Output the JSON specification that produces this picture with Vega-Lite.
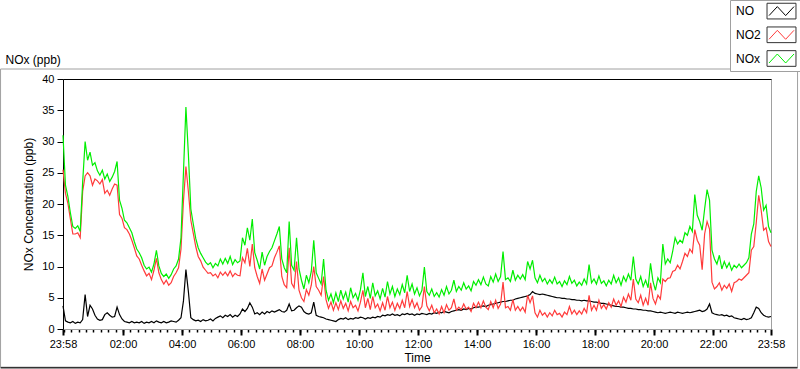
{
  "$schema": "https://vega.github.io/schema/vega-lite/v6.json",
  "width": 708,
  "height": 250,
  "autosize": "none",
  "padding": {"left": 63, "top": 79, "right": 29, "bottom": 40},
  "background": "white",
  "config": {
    "font": "Liberation Sans",
    "view": {"stroke": "#a0a0a0"},
    "axis": {"labelFont": "Liberation Sans", "titleFont": "Liberation Sans", "labelColor": "#000", "titleColor": "#000", "titleFontWeight": "normal", "grid": false}
  },
  "resolve": {"axis": {"x": "independent", "y": "independent"}},
  "layer": [
    {
      "data": {"values": [{"f": 1}]},
      "mark": {"type": "rect", "filled": false, "color": "#a0a0a0", "strokeWidth": 1, "clip": false},
      "encoding": {
        "x": {"datum": -127, "type": "quantitative", "scale": {"domain": [0, 1440], "nice": false, "zero": false},
          "axis": {"orient": "bottom", "values": [2,17,32,47,62,77,92,107,122,137,152,167,182,197,212,227,242,257,272,287,302,317,332,347,362,377,392,407,422,437,452,467,482,497,512,527,542,557,572,587,602,617,632,647,662,677,692,707,722,737,752,767,782,797,812,827,842,857,872,887,902,917,932,947,962,977,992,1007,1022,1037,1052,1067,1082,1097,1112,1127,1142,1157,1172,1187,1202,1217,1232,1247,1262,1277,1292,1307,1322,1337,1352,1367,1382,1397,1412,1427], "labels": false, "domain": false, "title": null, "ticks": true, "tickSize": 3, "tickWidth": 1.5, "tickColor": "#000"}},
        "x2": {"datum": 1494},
        "y": {"datum": 41.6, "type": "quantitative", "scale": {"domain": [0, 40], "nice": false}, "axis": null},
        "y2": {"datum": -6.1}
      }
    },
    {
      "data": {"values": [{"f": 1}]},
      "mark": {"type": "rule", "color": "#333333", "strokeWidth": 1.5, "clip": false},
      "encoding": {
        "x": {"datum": -127, "type": "quantitative", "axis": {"orient": "top", "labels": false, "ticks": false, "domain": true, "domainColor": "#000", "domainWidth": 1,
          "title": "NOx (ppb)", "titleX": -58, "titleY": -16, "titleAlign": "left", "titleBaseline": "alphabetic", "titleAngle": 0, "titleFontSize": 12}},
        "x2": {"datum": 1494},
        "y": {"datum": -6.2, "type": "quantitative", "axis": null}
      }
    },
    {
      "data": {"values": [
{"m":0,"NO":3.7,"NO2":25.5,"NOx":31.0},{"m":5,"NO":1.3,"NO2":21.7,"NOx":23.0},{"m":10,"NO":1.1,"NO2":20.1,"NOx":21.2},{"m":15,"NO":1.0,"NO2":17.6,"NOx":18.6},{"m":20,"NO":1.2,"NO2":15.2,"NOx":16.4},{"m":25,"NO":0.9,"NO2":15.2,"NOx":16.1},{"m":30,"NO":1.1,"NO2":15.4,"NOx":16.5},{"m":35,"NO":1.0,"NO2":14.6,"NOx":15.6},{"m":40,"NO":1.5,"NO2":22.0,"NOx":23.5},{"m":45,"NO":5.5,"NO2":24.5,"NOx":30.0},
{"m":50,"NO":2.0,"NO2":25.0,"NOx":27.0},{"m":55,"NO":3.8,"NO2":24.5,"NOx":28.3},{"m":60,"NO":3.2,"NO2":23.0,"NOx":26.2},{"m":65,"NO":2.2,"NO2":24.0,"NOx":26.6},{"m":70,"NO":1.6,"NO2":23.7,"NOx":25.3},{"m":75,"NO":1.4,"NO2":23.2,"NOx":24.6},{"m":80,"NO":1.5,"NO2":23.9,"NOx":25.4},{"m":85,"NO":2.3,"NO2":21.7,"NOx":24.0},{"m":90,"NO":2.6,"NO2":22.2,"NOx":24.8},{"m":95,"NO":2.2,"NO2":21.4,"NOx":23.6},
{"m":100,"NO":1.9,"NO2":22.4,"NOx":24.3},{"m":105,"NO":2.0,"NO2":23.2,"NOx":25.2},{"m":110,"NO":3.5,"NO2":23.0,"NOx":26.8},{"m":115,"NO":2.3,"NO2":18.3,"NOx":20.6},{"m":120,"NO":1.6,"NO2":17.7,"NOx":19.3},{"m":125,"NO":1.2,"NO2":16.2,"NOx":17.4},{"m":130,"NO":1.1,"NO2":15.9,"NOx":17.0},{"m":135,"NO":1.0,"NO2":15.2,"NOx":16.2},{"m":140,"NO":1.2,"NO2":14.2,"NOx":15.4},{"m":145,"NO":1.0,"NO2":13.0,"NOx":14.0},
{"m":150,"NO":1.1,"NO2":11.7,"NOx":12.8},{"m":155,"NO":1.0,"NO2":11.2,"NOx":12.2},{"m":160,"NO":1.2,"NO2":10.2,"NOx":11.4},{"m":165,"NO":0.9,"NO2":9.3,"NOx":10.2},{"m":170,"NO":1.1,"NO2":8.5,"NOx":9.6},{"m":175,"NO":1.0,"NO2":8.9,"NOx":9.9},{"m":180,"NO":1.2,"NO2":7.9,"NOx":9.1},{"m":185,"NO":1.0,"NO2":9.4,"NOx":10.4},{"m":190,"NO":1.3,"NO2":11.3,"NOx":12.6},{"m":195,"NO":1.1,"NO2":9.0,"NOx":10.1},
{"m":200,"NO":1.0,"NO2":7.9,"NOx":8.9},{"m":205,"NO":1.2,"NO2":7.2,"NOx":8.4},{"m":210,"NO":1.0,"NO2":7.8,"NOx":8.8},{"m":215,"NO":1.1,"NO2":7.0,"NOx":8.1},{"m":220,"NO":1.3,"NO2":7.4,"NOx":8.7},{"m":225,"NO":1.2,"NO2":8.4,"NOx":9.6},{"m":230,"NO":1.1,"NO2":9.0,"NOx":10.1},{"m":235,"NO":1.4,"NO2":9.8,"NOx":11.2},{"m":240,"NO":1.8,"NO2":12.8,"NOx":14.6},{"m":245,"NO":4.5,"NO2":20.5,"NOx":25.0},
{"m":250,"NO":9.5,"NO2":26.0,"NOx":35.5},{"m":255,"NO":6.0,"NO2":22.0,"NOx":28.0},{"m":260,"NO":1.8,"NO2":17.4,"NOx":19.2},{"m":265,"NO":1.5,"NO2":15.3,"NOx":16.8},{"m":270,"NO":1.3,"NO2":13.2,"NOx":14.5},{"m":275,"NO":1.4,"NO2":11.6,"NOx":13.0},{"m":280,"NO":1.2,"NO2":10.9,"NOx":12.1},{"m":285,"NO":1.5,"NO2":9.9,"NOx":11.4},{"m":290,"NO":1.3,"NO2":9.4,"NOx":10.7},{"m":295,"NO":1.4,"NO2":8.9,"NOx":10.3},
{"m":300,"NO":1.6,"NO2":9.0,"NOx":10.6},{"m":305,"NO":1.3,"NO2":8.5,"NOx":9.8},{"m":310,"NO":1.7,"NO2":8.8,"NOx":10.5},{"m":315,"NO":1.9,"NO2":8.2,"NOx":10.1},{"m":320,"NO":2.1,"NO2":9.1,"NOx":11.2},{"m":325,"NO":1.8,"NO2":8.6,"NOx":10.4},{"m":330,"NO":2.2,"NO2":9.1,"NOx":11.3},{"m":335,"NO":2.0,"NO2":8.5,"NOx":10.5},{"m":340,"NO":2.3,"NO2":9.3,"NOx":11.6},{"m":345,"NO":1.9,"NO2":8.4,"NOx":10.3},
{"m":350,"NO":2.2,"NO2":8.9,"NOx":11.1},{"m":355,"NO":2.0,"NO2":8.6,"NOx":10.6},{"m":360,"NO":2.4,"NO2":8.5,"NOx":10.9},{"m":365,"NO":3.2,"NO2":11.4,"NOx":14.6},{"m":370,"NO":2.8,"NO2":10.6,"NOx":13.4},{"m":375,"NO":3.3,"NO2":12.9,"NOx":16.2},{"m":380,"NO":4.2,"NO2":10.0,"NOx":14.2},{"m":385,"NO":3.5,"NO2":13.6,"NOx":17.6},{"m":390,"NO":2.4,"NO2":9.8,"NOx":12.2},{"m":395,"NO":2.6,"NO2":8.4,"NOx":11.0},
{"m":400,"NO":2.3,"NO2":7.3,"NOx":9.6},{"m":405,"NO":2.7,"NO2":9.6,"NOx":12.3},{"m":410,"NO":2.4,"NO2":7.8,"NOx":10.2},{"m":415,"NO":2.8,"NO2":8.8,"NOx":11.6},{"m":420,"NO":2.6,"NO2":9.8,"NOx":12.4},{"m":425,"NO":2.9,"NO2":10.1,"NOx":13.0},{"m":430,"NO":2.7,"NO2":11.4,"NOx":14.1},{"m":435,"NO":2.9,"NO2":12.3,"NOx":15.2},{"m":440,"NO":3.1,"NO2":13.3,"NOx":16.4},{"m":445,"NO":2.8,"NO2":8.4,"NOx":11.2},
{"m":450,"NO":2.7,"NO2":7.1,"NOx":9.8},{"m":455,"NO":3.0,"NO2":6.6,"NOx":9.0},{"m":460,"NO":4.0,"NO2":13.0,"NOx":17.2},{"m":465,"NO":2.9,"NO2":7.3,"NOx":10.2},{"m":470,"NO":3.0,"NO2":6.6,"NOx":9.4},{"m":475,"NO":3.4,"NO2":10.8,"NOx":14.6},{"m":480,"NO":3.7,"NO2":6.2,"NOx":9.6},{"m":485,"NO":3.5,"NO2":5.0,"NOx":7.8},{"m":490,"NO":2.8,"NO2":4.4,"NOx":6.4},{"m":495,"NO":2.5,"NO2":6.3,"NOx":8.6},
{"m":500,"NO":2.4,"NO2":5.4,"NOx":7.4},{"m":505,"NO":2.6,"NO2":7.0,"NOx":9.2},{"m":510,"NO":4.3,"NO2":10.0,"NOx":14.2},{"m":515,"NO":2.2,"NO2":6.8,"NOx":9.0},{"m":520,"NO":2.0,"NO2":6.2,"NOx":8.1},{"m":525,"NO":1.9,"NO2":5.4,"NOx":7.2},{"m":530,"NO":1.8,"NO2":8.4,"NOx":11.2},{"m":535,"NO":1.6,"NO2":4.7,"NOx":6.2},{"m":540,"NO":1.5,"NO2":3.3,"NOx":4.6},{"m":545,"NO":1.4,"NO2":4.3,"NOx":5.6},
{"m":550,"NO":1.3,"NO2":3.0,"NOx":4.2},{"m":555,"NO":1.2,"NO2":4.2,"NOx":5.8},{"m":560,"NO":1.5,"NO2":3.1,"NOx":4.4},{"m":565,"NO":1.7,"NO2":4.5,"NOx":6.2},{"m":570,"NO":1.6,"NO2":3.3,"NOx":4.8},{"m":575,"NO":1.8,"NO2":4.1,"NOx":5.9},{"m":580,"NO":1.5,"NO2":2.9,"NOx":4.3},{"m":585,"NO":1.7,"NO2":4.4,"NOx":6.6},{"m":590,"NO":1.6,"NO2":3.4,"NOx":5.0},{"m":595,"NO":1.8,"NO2":3.8,"NOx":5.7},
{"m":600,"NO":1.7,"NO2":2.9,"NOx":4.6},{"m":605,"NO":1.9,"NO2":4.3,"NOx":6.3},{"m":610,"NO":1.8,"NO2":6.2,"NOx":9.0},{"m":615,"NO":1.6,"NO2":3.4,"NOx":5.2},{"m":620,"NO":1.8,"NO2":4.9,"NOx":6.8},{"m":625,"NO":1.7,"NO2":3.1,"NOx":4.9},{"m":630,"NO":1.9,"NO2":5.2,"NOx":7.4},{"m":635,"NO":1.8,"NO2":3.4,"NOx":5.3},{"m":640,"NO":2.0,"NO2":4.0,"NOx":6.1},{"m":645,"NO":1.9,"NO2":2.9,"NOx":4.8},
{"m":650,"NO":2.2,"NO2":4.2,"NOx":6.5},{"m":655,"NO":2.1,"NO2":3.0,"NOx":5.1},{"m":660,"NO":2.3,"NO2":5.2,"NOx":7.6},{"m":665,"NO":2.2,"NO2":3.4,"NOx":5.6},{"m":670,"NO":2.4,"NO2":4.3,"NOx":6.8},{"m":675,"NO":2.2,"NO2":3.0,"NOx":5.2},{"m":680,"NO":2.3,"NO2":4.1,"NOx":6.4},{"m":685,"NO":2.1,"NO2":3.3,"NOx":5.5},{"m":690,"NO":2.4,"NO2":4.6,"NOx":7.1},{"m":695,"NO":2.3,"NO2":3.4,"NOx":5.8},
{"m":700,"NO":2.5,"NO2":6.0,"NOx":8.6},{"m":705,"NO":2.3,"NO2":3.6,"NOx":6.0},{"m":710,"NO":2.4,"NO2":4.7,"NOx":7.2},{"m":715,"NO":2.2,"NO2":3.4,"NOx":5.6},{"m":720,"NO":2.4,"NO2":4.2,"NOx":6.6},{"m":725,"NO":2.3,"NO2":3.0,"NOx":5.3},{"m":730,"NO":2.5,"NO2":3.6,"NOx":6.2},{"m":735,"NO":2.4,"NO2":6.8,"NOx":9.9},{"m":740,"NO":2.3,"NO2":3.7,"NOx":6.0},{"m":745,"NO":2.5,"NO2":2.9,"NOx":5.4},
{"m":750,"NO":2.4,"NO2":3.8,"NOx":6.4},{"m":755,"NO":2.6,"NO2":2.6,"NOx":5.2},{"m":760,"NO":2.5,"NO2":3.2,"NOx":5.8},{"m":765,"NO":2.7,"NO2":2.4,"NOx":5.1},{"m":770,"NO":2.6,"NO2":3.6,"NOx":6.3},{"m":775,"NO":2.8,"NO2":2.6,"NOx":5.4},{"m":780,"NO":2.7,"NO2":3.9,"NOx":6.8},{"m":785,"NO":2.6,"NO2":3.0,"NOx":5.6},{"m":790,"NO":2.8,"NO2":3.4,"NOx":6.2},{"m":795,"NO":2.9,"NO2":4.8,"NOx":7.8},
{"m":800,"NO":3.0,"NO2":3.0,"NOx":6.0},{"m":805,"NO":3.1,"NO2":3.5,"NOx":6.8},{"m":810,"NO":3.0,"NO2":3.1,"NOx":6.2},{"m":815,"NO":3.2,"NO2":4.0,"NOx":7.4},{"m":820,"NO":3.1,"NO2":3.2,"NOx":6.4},{"m":825,"NO":3.3,"NO2":3.5,"NOx":6.9},{"m":830,"NO":3.2,"NO2":2.8,"NOx":6.1},{"m":835,"NO":3.4,"NO2":4.1,"NOx":7.6},{"m":840,"NO":3.5,"NO2":3.4,"NOx":7.0},{"m":845,"NO":3.5,"NO2":4.3,"NOx":7.9},
{"m":850,"NO":3.6,"NO2":3.4,"NOx":7.1},{"m":855,"NO":3.7,"NO2":4.5,"NOx":8.3},{"m":860,"NO":3.6,"NO2":3.5,"NOx":7.2},{"m":865,"NO":3.8,"NO2":3.1,"NOx":6.9},{"m":870,"NO":3.9,"NO2":4.4,"NOx":8.4},{"m":875,"NO":4.0,"NO2":3.4,"NOx":7.5},{"m":880,"NO":4.1,"NO2":4.6,"NOx":8.8},{"m":885,"NO":4.2,"NO2":3.3,"NOx":7.6},{"m":890,"NO":4.3,"NO2":4.0,"NOx":8.4},{"m":895,"NO":4.4,"NO2":7.5,"NOx":12.4},
{"m":900,"NO":4.4,"NO2":3.4,"NOx":7.9},{"m":905,"NO":4.5,"NO2":3.6,"NOx":8.2},{"m":910,"NO":4.6,"NO2":3.0,"NOx":7.6},{"m":915,"NO":4.6,"NO2":4.7,"NOx":9.4},{"m":920,"NO":4.8,"NO2":3.0,"NOx":7.8},{"m":925,"NO":4.9,"NO2":3.6,"NOx":8.6},{"m":930,"NO":5.0,"NO2":2.9,"NOx":8.0},{"m":935,"NO":5.1,"NO2":3.5,"NOx":8.7},{"m":940,"NO":5.2,"NO2":2.7,"NOx":7.9},{"m":945,"NO":5.3,"NO2":5.4,"NOx":10.8},
{"m":950,"NO":5.5,"NO2":4.2,"NOx":9.6},{"m":955,"NO":6.0,"NO2":5.3,"NOx":11.0},{"m":960,"NO":5.7,"NO2":2.6,"NOx":8.2},{"m":965,"NO":5.6,"NO2":1.9,"NOx":7.4},{"m":970,"NO":5.5,"NO2":3.0,"NOx":8.6},{"m":975,"NO":5.6,"NO2":2.2,"NOx":7.6},{"m":980,"NO":5.5,"NO2":2.6,"NOx":8.1},{"m":985,"NO":5.4,"NO2":1.9,"NOx":7.2},{"m":990,"NO":5.3,"NO2":2.6,"NOx":7.9},{"m":995,"NO":5.2,"NO2":2.1,"NOx":7.3},
{"m":1000,"NO":5.1,"NO2":3.0,"NOx":8.3},{"m":1005,"NO":5.0,"NO2":2.3,"NOx":7.2},{"m":1010,"NO":5.0,"NO2":2.5,"NOx":7.6},{"m":1015,"NO":4.9,"NO2":1.9,"NOx":6.8},{"m":1020,"NO":4.9,"NO2":2.7,"NOx":7.7},{"m":1025,"NO":4.8,"NO2":2.3,"NOx":7.1},{"m":1030,"NO":4.8,"NO2":3.6,"NOx":8.4},{"m":1035,"NO":4.7,"NO2":2.4,"NOx":7.3},{"m":1040,"NO":4.7,"NO2":3.0,"NOx":7.8},{"m":1045,"NO":4.6,"NO2":2.3,"NOx":6.9},
{"m":1050,"NO":4.6,"NO2":2.9,"NOx":7.5},{"m":1055,"NO":4.5,"NO2":2.4,"NOx":7.0},{"m":1060,"NO":4.6,"NO2":3.3,"NOx":8.0},{"m":1065,"NO":4.5,"NO2":2.6,"NOx":7.2},{"m":1070,"NO":4.5,"NO2":5.4,"NOx":10.3},{"m":1075,"NO":4.4,"NO2":3.0,"NOx":7.4},{"m":1080,"NO":4.3,"NO2":3.8,"NOx":8.0},{"m":1085,"NO":4.3,"NO2":3.0,"NOx":7.2},{"m":1090,"NO":4.2,"NO2":4.6,"NOx":8.5},{"m":1095,"NO":4.1,"NO2":3.3,"NOx":7.3},
{"m":1100,"NO":4.1,"NO2":3.9,"NOx":7.7},{"m":1105,"NO":4.0,"NO2":3.2,"NOx":6.9},{"m":1110,"NO":3.9,"NO2":4.2,"NOx":7.8},{"m":1115,"NO":3.8,"NO2":3.5,"NOx":7.2},{"m":1120,"NO":3.7,"NO2":4.8,"NOx":8.6},{"m":1125,"NO":3.6,"NO2":3.8,"NOx":7.4},{"m":1130,"NO":3.6,"NO2":4.5,"NOx":8.2},{"m":1135,"NO":3.5,"NO2":3.6,"NOx":7.0},{"m":1140,"NO":3.5,"NO2":5.1,"NOx":8.4},{"m":1145,"NO":3.4,"NO2":4.3,"NOx":7.6},
{"m":1150,"NO":3.3,"NO2":5.6,"NOx":8.8},{"m":1155,"NO":3.3,"NO2":4.6,"NOx":7.8},{"m":1160,"NO":3.2,"NO2":8.0,"NOx":11.6},{"m":1165,"NO":3.2,"NO2":4.8,"NOx":8.0},{"m":1170,"NO":3.1,"NO2":4.2,"NOx":7.2},{"m":1175,"NO":3.1,"NO2":5.4,"NOx":8.4},{"m":1180,"NO":3.0,"NO2":3.8,"NOx":6.8},{"m":1185,"NO":3.0,"NO2":4.9,"NOx":7.8},{"m":1190,"NO":2.9,"NO2":3.8,"NOx":6.6},{"m":1195,"NO":2.9,"NO2":7.4,"NOx":10.5},
{"m":1200,"NO":2.8,"NO2":4.9,"NOx":7.6},{"m":1205,"NO":2.7,"NO2":4.0,"NOx":6.2},{"m":1210,"NO":2.6,"NO2":5.4,"NOx":8.2},{"m":1215,"NO":2.7,"NO2":4.8,"NOx":7.4},{"m":1220,"NO":2.6,"NO2":8.0,"NOx":13.6},{"m":1225,"NO":2.5,"NO2":7.6,"NOx":10.4},{"m":1230,"NO":2.6,"NO2":8.1,"NOx":11.2},{"m":1235,"NO":2.7,"NO2":8.2,"NOx":10.6},{"m":1240,"NO":2.6,"NO2":9.2,"NOx":12.4},{"m":1245,"NO":2.5,"NO2":9.4,"NOx":14.6},
{"m":1250,"NO":2.7,"NO2":10.2,"NOx":13.6},{"m":1255,"NO":2.6,"NO2":9.6,"NOx":14.2},{"m":1260,"NO":2.5,"NO2":10.8,"NOx":13.8},{"m":1265,"NO":2.6,"NO2":12.1,"NOx":15.4},{"m":1270,"NO":2.7,"NO2":11.6,"NOx":15.0},{"m":1275,"NO":2.6,"NO2":12.8,"NOx":16.4},{"m":1280,"NO":2.7,"NO2":12.2,"NOx":15.6},{"m":1285,"NO":2.8,"NO2":15.9,"NOx":21.5},{"m":1290,"NO":2.9,"NO2":14.2,"NOx":18.2},{"m":1295,"NO":3.0,"NO2":13.4,"NOx":17.2},
{"m":1300,"NO":2.8,"NO2":9.5,"NOx":15.8},{"m":1305,"NO":2.9,"NO2":15.2,"NOx":19.2},{"m":1310,"NO":3.2,"NO2":17.2,"NOx":22.3},{"m":1315,"NO":4.0,"NO2":16.0,"NOx":20.6},{"m":1320,"NO":2.6,"NO2":7.5,"NOx":12.6},{"m":1325,"NO":2.4,"NO2":6.4,"NOx":11.2},{"m":1330,"NO":2.3,"NO2":6.8,"NOx":10.4},{"m":1335,"NO":2.2,"NO2":7.4,"NOx":11.8},{"m":1340,"NO":2.3,"NO2":6.2,"NOx":9.6},{"m":1345,"NO":2.1,"NO2":7.0,"NOx":10.8},
{"m":1350,"NO":2.2,"NO2":6.5,"NOx":9.8},{"m":1355,"NO":2.0,"NO2":7.2,"NOx":10.6},{"m":1360,"NO":2.1,"NO2":6.0,"NOx":9.4},{"m":1365,"NO":1.8,"NO2":7.4,"NOx":10.2},{"m":1370,"NO":1.7,"NO2":7.6,"NOx":9.8},{"m":1375,"NO":1.6,"NO2":8.0,"NOx":10.4},{"m":1380,"NO":1.5,"NO2":7.8,"NOx":9.8},{"m":1385,"NO":1.7,"NO2":8.2,"NOx":10.2},{"m":1390,"NO":1.5,"NO2":8.6,"NOx":10.6},{"m":1395,"NO":1.6,"NO2":9.0,"NOx":11.4},
{"m":1400,"NO":1.8,"NO2":12.6,"NOx":15.2},{"m":1405,"NO":2.6,"NO2":13.2,"NOx":16.8},{"m":1410,"NO":3.5,"NO2":17.0,"NOx":22.0},{"m":1415,"NO":3.3,"NO2":21.4,"NOx":24.5},{"m":1420,"NO":2.6,"NO2":19.0,"NOx":22.6},{"m":1425,"NO":2.2,"NO2":15.8,"NOx":19.0},{"m":1430,"NO":2.0,"NO2":16.2,"NOx":19.8},{"m":1435,"NO":1.9,"NO2":14.0,"NOx":16.4},{"m":1440,"NO":2.0,"NO2":13.2,"NOx":15.4}
      ]},
      "transform": [{"fold": ["NO", "NO2", "NOx"], "as": ["key", "value"]}],
      "mark": {"type": "line", "strokeWidth": 1.2, "interpolate": "linear"},
      "encoding": {
        "x": {"field": "m", "type": "quantitative",
          "axis": {"orient": "bottom", "values": [0,122,242,362,482,602,722,842,962,1082,1202,1322,1440], "labelExpr": "datum.value == 0 || datum.value == 1440 ? '23:58' : format((datum.value - 2) / 60, '02d') + ':00'", "labelFlush": false, "labelOverlap": false, "tickSize": 6, "tickWidth": 2, "tickColor": "#000", "domainColor": "#a0a0a0", "labelFontSize": 11, "labelPadding": 3, "title": "Time", "titleFontSize": 12, "titlePadding": 3}},
        "y": {"field": "value", "type": "quantitative",
          "axis": {"orient": "left", "values": [0,5,10,15,20,25,30,35,40], "tickSize": 6, "tickWidth": 1, "tickColor": "#000", "domainColor": "#000", "labelFontSize": 11, "labelPadding": 3, "labelOverlap": false, "title": "NOx Concentration (ppb)", "titleFontSize": 12, "titlePadding": 6}},
        "color": {"field": "key", "type": "nominal",
          "scale": {"domain": ["NO", "NO2", "NOx"], "range": ["#000000", "#ff3b3b", "#00ee00"]},
          "legend": {"orient": "none", "legendX": 667, "legendY": -79, "title": null, "padding": 2.6, "fillColor": "white", "strokeColor": "#a0a0a0",
            "symbolType": "M-1.81,-0.98M1.81,0.98M-1.56,0.56L-0.52,-0.56L0.52,0.56L1.56,-0.56", "symbolSize": 256, "symbolStrokeWidth": 1, "symbolFillColor": "transparent",
            "labelFontSize": 12, "labelFont": "Liberation Sans", "labelColor": "#000", "labelOffset": -54, "symbolOffset": 40.4, "rowPadding": 2.7}}
      }
    },
    {
      "data": {"values": [{"b": "b1"}, {"b": "b2"}, {"b": "b3"}]},
      "mark": {"type": "point", "opacity": 0},
      "encoding": {
        "shape": {"field": "b", "type": "nominal",
          "scale": {"domain": ["b1", "b2", "b3"], "range": ["M-1.81,-0.98H1.81V0.98H-1.81Z", "M-1.81,-0.98H1.81V0.98H-1.81Z", "M-1.81,-0.98H1.81V0.98H-1.81Z"]},
          "legend": {"orient": "none", "legendX": 667, "legendY": -79, "title": null, "padding": 2.6,
            "symbolSize": 256, "symbolStrokeWidth": 1, "symbolStrokeColor": "#333333", "symbolFillColor": "transparent", "symbolOpacity": 1,
            "labelFontSize": 12, "labelFont": "Liberation Sans", "labelExpr": "''", "labelOffset": -54, "symbolOffset": 40.4, "rowPadding": 2.7}}
      }
    }
  ]
}
